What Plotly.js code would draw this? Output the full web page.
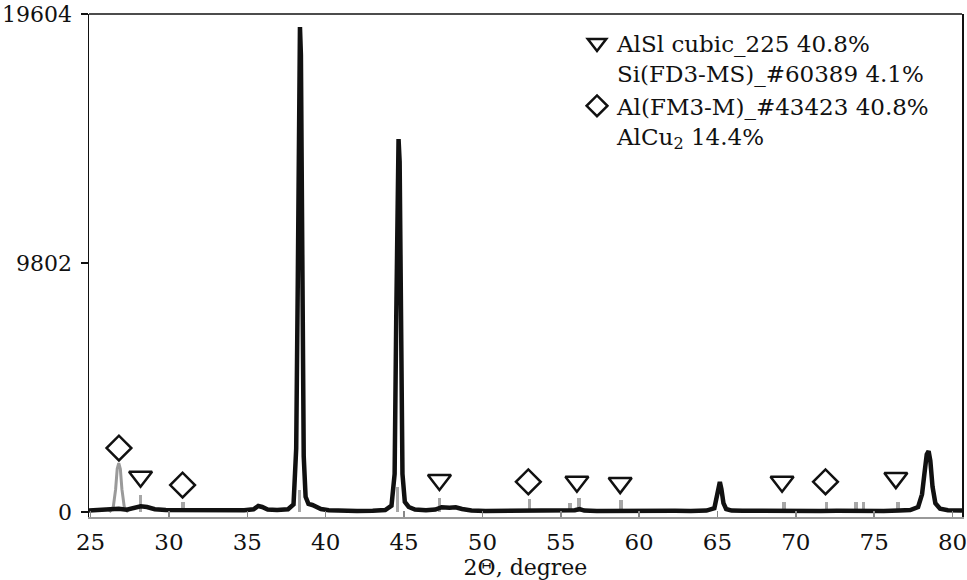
<!DOCTYPE html>
<html>
<head>
<meta charset="utf-8">
<script src="https://cdn.plot.ly/plotly-3.0.1.min.js"></script>
<style>html,body{margin:0;padding:0;background:#fff;}#chart{width:967px;height:580px;}</style>
</head>
<body>
<div id="chart"></div>
<script>
// Measured diffraction profile (black)
const profileX = [24.9,25.5,26.3,26.8,27.3,27.8,28.2,28.6,29.1,29.8,30.8,31.8,32.8,33.8,34.8,35.4,35.7,35.95,36.3,36.9,37.6,37.95,38.12,38.22,38.3,38.36,38.42,38.5,38.6,38.72,38.9,39.15,39.4,39.7,40.2,41,42,43,43.8,44.2,44.4,44.5,44.58,44.65,44.72,44.8,44.9,45.05,45.3,45.7,46.4,47.0,47.4,47.9,48.3,48.7,49.3,50.2,51.2,52.2,53.2,54.2,55.2,55.9,56.2,56.5,57.3,58.3,59.3,60.3,61.3,62.3,63.3,64.3,64.8,64.95,65.05,65.15,65.25,65.38,65.55,65.9,66.6,67.6,68.6,69.6,70.6,71.6,72.6,73.6,74.6,75.6,76.6,77.3,77.8,78.05,78.2,78.35,78.47,78.58,78.72,78.9,79.2,79.7,80.6];
const profileY = [60,70,90,130,90,160,230,200,110,80,70,60,70,60,70,110,240,200,100,80,110,300,2500,9000,17500,19089,18000,10000,2200,600,320,280,220,120,70,50,40,50,80,250,1500,7500,13500,14681,13800,7500,1500,400,200,100,70,100,190,170,190,120,60,40,40,50,40,50,40,70,120,60,40,50,40,50,40,50,40,60,150,600,1100,1181,900,350,120,60,50,40,50,40,50,40,50,40,50,40,60,80,200,700,1500,2270,2401,2020,1000,350,130,70,60];

// Gray peak (separate phase)
const grayX = [26.2,26.45,26.6,26.7,26.8,26.9,27.0,27.15,27.4];
const grayY = [0,200,900,1700,1929,1700,900,200,0];

// Reference stick lines (gray)
const stickX = [28.19,30.91,38.34,44.60,47.26,52.99,55.60,56.17,58.83,69.23,71.95,73.84,74.33,76.51];
const stickY = [669,404,866,996,551,512,354,551,472,404,404,404,404,404];

// Phase markers
const triX = [28.19,47.26,56.03,58.79,69.12,76.38];
const triY = [1389,1260,1193,1141,1193,1338];
const diaX = [26.81,30.87,52.93,71.89];
const diaY = [2519,1063,1193,1193];

const triName = "AlSl cubic_225 40.8%<br>Si(FD3-MS)_#60389 4.1%";
const diaName = "Al(FM3-M)_#43423 40.8%<br>AlCu<sub>2</sub> 14.4%";

const yTicks = [0, 9802, 19604];
const xTicks = [25,30,35,40,45,50,55,60,65,70,75,80];

const FONT = "DejaVu Serif, Liberation Serif, serif";

const traces = [
  {type:'bar', x:stickX, y:stickY, width:0.22, marker:{color:'rgba(120,120,120,0.65)'}, showlegend:false, hoverinfo:'skip'},
  {type:'scatter', mode:'lines', x:grayX, y:grayY, line:{color:'#9a9a9a', width:3}, showlegend:false},
  {type:'scatter', mode:'lines', x:profileX, y:profileY, line:{color:'#111', width:4.5}, showlegend:false},
  {type:'scatter', mode:'markers', x:triX, y:triY, name:triName,
   marker:{symbol:'triangle-down-open', size:20, color:'#111', line:{width:2.5, color:'#111'}}},
  {type:'scatter', mode:'markers', x:diaX, y:diaY, name:diaName,
   marker:{symbol:'diamond-open', size:19, color:'#111', line:{width:2.5, color:'#111'}}}
];

const layout = {
  width:967, height:580,
  margin:{l:89, r:5, t:14, b:63},
  paper_bgcolor:'#fff', plot_bgcolor:'#fff',
  font:{family:FONT, color:'#111', size:22},
  showlegend:true,
  legend:{x:0.559, y:0.985, xanchor:'left', yanchor:'top', bgcolor:'rgba(0,0,0,0)',
          font:{family:FONT, size:23, color:'#111'}, valign:'top', itemsizing:'trace'},
  xaxis:{range:[24.9,80.6], tickvals:xTicks, ticks:'inside', ticklen:6, tickcolor:'#888', tickwidth:1.5,
         showline:true, linecolor:'#999', linewidth:2, showgrid:false, zeroline:false,
         tickfont:{family:FONT, size:23, color:'#111'}, ticklabelstandoff:3, ticklabeloverflow:'allow',
         title:{text:'2Θ, degree', font:{family:FONT, size:22, color:'#111'}, standoff:2}},
  yaxis:{range:[-194,19604], tickvals:yTicks, ticktext:yTicks.map(String), ticks:'outside', ticklen:7,
         tickcolor:'#111', tickwidth:1.5, showline:true, linecolor:'#111', linewidth:1.5, mirror:true,
         showgrid:false, zeroline:false, tickfont:{family:FONT, size:22, color:'#111'},
         ticklabelstandoff:4, ticklabeloverflow:'allow'},
  shapes:[{type:'line', xref:'paper', yref:'paper', x0:0, x1:1, y0:1, y1:1, line:{color:'#111', width:1.5}}],
  bargap:0
};

Plotly.newPlot('chart', traces, layout, {displayModeBar:false, staticPlot:true});
</script>
</body>
</html>
